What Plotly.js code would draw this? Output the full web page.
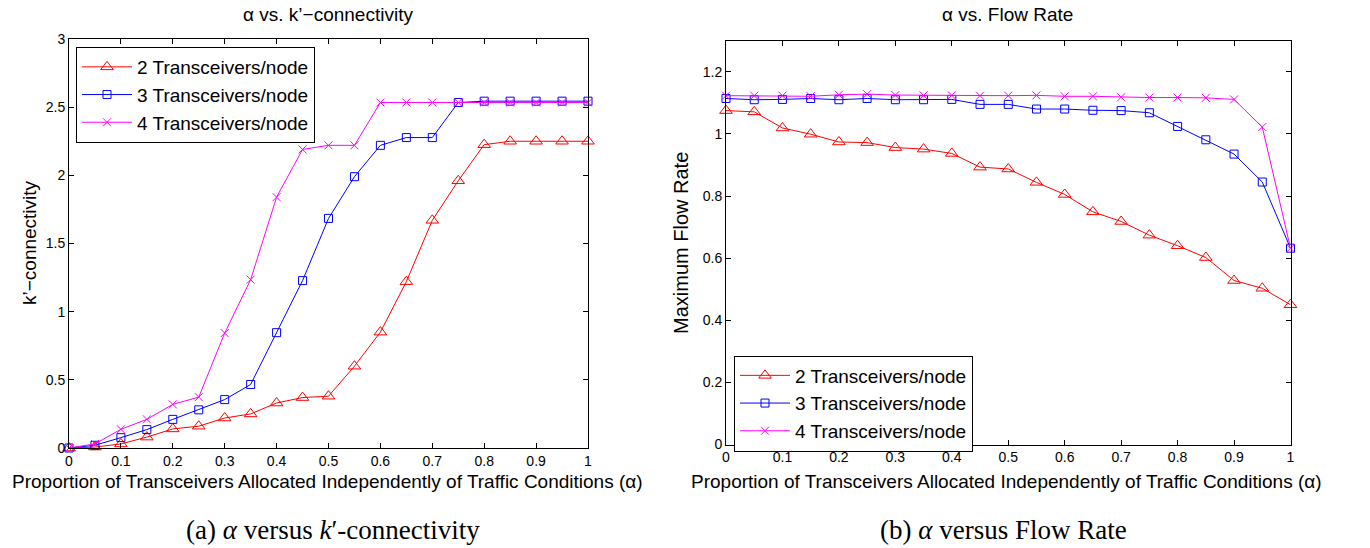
<!DOCTYPE html>
<html>
<head>
<meta charset="utf-8">
<script src="https://cdn.plot.ly/plotly-3.0.1.min.js"></script>
<style>
html,body{margin:0;padding:0;background:#fff;}
#chart{width:1370px;height:548px;}
</style>
</head>
<body>
<div id="chart"></div>
<script>
// ---- data ----
const alpha = [0,0.05,0.1,0.15,0.2,0.25,0.3,0.35,0.4,0.45,0.5,0.55,0.6,0.65,0.7,0.75,0.8,0.85,0.9,0.95,1];
const seriesNames = ["2 Transceivers/node","3 Transceivers/node","4 Transceivers/node"];

// (a) alpha vs k'-connectivity
const kconn2 = [0,0.007,0.03,0.08,0.14,0.16,0.22,0.25,0.33,0.37,0.38,0.60,0.85,1.22,1.67,1.96,2.225,2.25,2.25,2.25,2.25];
const kconn3 = [0,0.02,0.076,0.135,0.21,0.28,0.355,0.466,0.846,1.228,1.684,1.99,2.22,2.277,2.277,2.534,2.544,2.544,2.544,2.544,2.544];
const kconn4 = [0,0.03,0.137,0.21,0.32,0.373,0.843,1.235,1.84,2.19,2.22,2.22,2.534,2.534,2.534,2.534,2.534,2.534,2.534,2.534,2.534];

// (b) alpha vs flow rate
const flow2 = [1.075,1.071,1.019,0.999,0.974,0.972,0.956,0.951,0.937,0.893,0.887,0.844,0.805,0.749,0.718,0.674,0.640,0.602,0.528,0.503,0.450];
const flow3 = [1.114,1.110,1.111,1.114,1.110,1.114,1.110,1.110,1.111,1.095,1.095,1.080,1.080,1.076,1.075,1.068,1.024,0.981,0.935,0.845,0.632];
const flow4 = [1.123,1.123,1.123,1.121,1.126,1.128,1.125,1.124,1.124,1.123,1.123,1.124,1.121,1.121,1.118,1.117,1.117,1.116,1.111,1.022,0.632];

const titleA = "α vs. k’−connectivity";
const titleB = "α vs. Flow Rate";
const xTitle = "Proportion of Transceivers Allocated Independently of Traffic Conditions (α)";
const yTitleA = "k’−connectivity";
const yTitleB = "Maximum Flow Rate";
const captionA = "(a) <i>α</i> versus <i>k</i>′-connectivity";
const captionB = "(b) <i>α</i> versus Flow Rate";

// ---- styles ----
const colors = ["#ff0000","#0000ff","#ff00ff"];
const symbols = ["triangle-up-open","square-open","x-thin-open"];
const msizes = [11,8,8];
const SANS = "Liberation Sans, Arial, Helvetica, sans-serif";
const SERIF = "Liberation Serif, Times New Roman, serif";

function mk(y, i, xa, ya, leg) {
  return {
    x: alpha, y: y, name: seriesNames[i], type: "scatter", mode: "lines+markers",
    xaxis: xa, yaxis: ya, legend: leg, cliponaxis: false,
    line: {color: colors[i], width: 1},
    marker: {symbol: symbols[i], size: msizes[i], color: colors[i], line: {color: colors[i], width: 1}}
  };
}

const data = [
  mk(kconn2,0,"x","y","legend"), mk(kconn3,1,"x","y","legend"), mk(kconn4,2,"x","y","legend"),
  mk(flow2,0,"x2","y2","legend2"), mk(flow3,1,"x2","y2","legend2"), mk(flow4,2,"x2","y2","legend2")
];

const W = 1370, H = 548;
const px = v => v / W;
const py = v => 1 - v / H;

function axis(extra) {
  return Object.assign({
    showline: true, linecolor: "#000", linewidth: 1, mirror: "ticks",
    ticks: "inside", ticklen: 5, tickcolor: "#000", tickwidth: 1,
    showgrid: false, zeroline: false, automargin: false,
    tickfont: {family: SANS, size: 14, color: "#000"}
  }, extra);
}

const legendCommon = {
  bordercolor: "#000", borderwidth: 1, bgcolor: "#fff",
  font: {family: SANS, size: 19, color: "#000"},
  xanchor: "left", yanchor: "top", xref: "paper", yref: "paper",
  itemwidth: 50, tracegroupgap: 0
};

const layout = {
  width: W, height: H,
  margin: {l: 0, r: 0, t: 0, b: 0},
  paper_bgcolor: "#fff", plot_bgcolor: "#fff",
  showlegend: true,
  xaxis: axis({domain: [px(69), px(588)], range: [0,1], dtick: 0.1, tick0: 0, anchor: "y"}),
  yaxis: axis({domain: [1-448/H, 1-39/H], range: [0,3], dtick: 0.5, tick0: 0, anchor: "x"}),
  xaxis2: axis({domain: [px(726), px(1290.5)], range: [0,1], dtick: 0.1, tick0: 0, anchor: "y2"}),
  yaxis2: axis({domain: [1-444.5/H, 1-40.7/H], range: [0,1.3], dtick: 0.2, tick0: 0, anchor: "x2"}),
  legend: Object.assign({}, legendCommon, {x: px(76), y: py(47)}),
  legend2: Object.assign({}, legendCommon, {x: px(734), y: py(355.5)}),
  annotations: [
    {text: titleA, x: px(328), y: py(15), xref: "paper", yref: "paper", showarrow: false, xanchor: "center", yanchor: "middle", font: {family: SANS, size: 19, color: "#000"}},
    {text: titleB, x: px(1008), y: py(15), xref: "paper", yref: "paper", showarrow: false, xanchor: "center", yanchor: "middle", font: {family: SANS, size: 19, color: "#000"}},
    {text: xTitle, x: px(327), y: py(481), xref: "paper", yref: "paper", showarrow: false, xanchor: "center", yanchor: "middle", font: {family: SANS, size: 19, color: "#000"}},
    {text: xTitle, x: px(1006), y: py(481), xref: "paper", yref: "paper", showarrow: false, xanchor: "center", yanchor: "middle", font: {family: SANS, size: 19, color: "#000"}},
    {text: yTitleA, x: px(30), y: py(243), xref: "paper", yref: "paper", showarrow: false, xanchor: "center", yanchor: "middle", textangle: -90, font: {family: SANS, size: 19, color: "#000"}},
    {text: yTitleB, x: px(681), y: py(243), xref: "paper", yref: "paper", showarrow: false, xanchor: "center", yanchor: "middle", textangle: -90, font: {family: SANS, size: 20, color: "#000"}},
    {text: captionA, x: px(333), y: py(530), xref: "paper", yref: "paper", showarrow: false, xanchor: "center", yanchor: "middle", font: {family: SERIF, size: 27, color: "#000"}},
    {text: captionB, x: px(1003), y: py(530), xref: "paper", yref: "paper", showarrow: false, xanchor: "center", yanchor: "middle", font: {family: SERIF, size: 27, color: "#000"}}
  ]
};

Plotly.newPlot("chart", data, layout, {displayModeBar: false, staticPlot: true});
</script>
</body>
</html>
